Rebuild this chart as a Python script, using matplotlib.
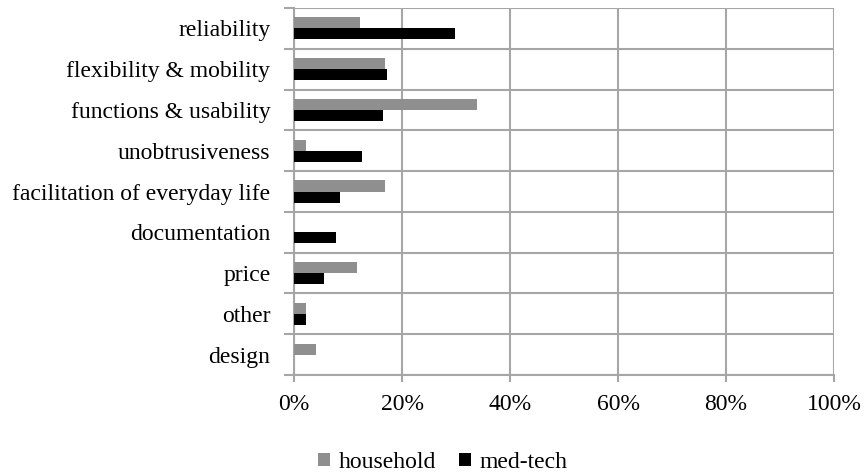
import matplotlib.pyplot as plt
import numpy as np

# Data (share of mentions, %)
categories = ['reliability', 'flexibility & mobility', 'functions & usability',
              'unobtrusiveness', 'facilitation of everyday life', 'documentation',
              'price', 'other', 'design']
household = [12.2, 16.9, 33.8, 2.3, 16.9, 0.0, 11.7, 2.3, 4.1]
medtech = [29.8, 17.3, 16.4, 12.5, 8.6, 7.7, 5.5, 2.3, 0.0]
xticks = [0, 20, 40, 60, 80, 100]

plt.rcParams['font.family'] = ['Liberation Serif', 'DejaVu Serif']

fig = plt.figure(figsize=(8.65, 4.73), dpi=100)
ax = fig.add_axes([294 / 865, 1 - 375 / 473, 540 / 865, 367 / 473])

grid_col = '#a6a6a6'
n = len(categories)
y = np.arange(n)[::-1]
h = 0.27

ax.barh(y + h / 2, household, height=h, color='#8f8f8f', label='household', zorder=3)
ax.barh(y - h / 2, medtech, height=h, color='black', label='med-tech', zorder=3)

ax.set_xlim(0, 100)
ax.set_ylim(-0.5, n - 0.5)
ax.set_xticks(xticks)
ax.set_xticklabels([f'{v}%' for v in xticks])
ax.set_yticks(y)
ax.set_yticklabels(categories)
ax.set_yticks(np.arange(n + 1) - 0.5, minor=True)

ax.tick_params(axis='y', which='major', length=0, pad=17, labelsize=17)
ax.tick_params(axis='y', which='minor', length=7, width=1.5, color=grid_col, direction='out')
ax.tick_params(axis='x', which='major', length=5, width=1.5, color=grid_col, pad=9, labelsize=17)

ax.grid(True, axis='x', which='major', color=grid_col, linewidth=1.5, zorder=0)
ax.grid(True, axis='y', which='minor', color=grid_col, linewidth=1.5, zorder=0)

for s in ['top', 'right']:
    ax.spines[s].set_visible(False)
for s in ['left', 'bottom']:
    ax.spines[s].set_color(grid_col)
    ax.spines[s].set_linewidth(1.5)

fig.legend(loc='lower center', bbox_to_anchor=(0.512, -0.045), ncol=2, frameon=False,
           fontsize=17, handlelength=0.5, handleheight=0.5, handletextpad=0.35,
           columnspacing=1.0)

fig.savefig('out.png', dpi=100)
